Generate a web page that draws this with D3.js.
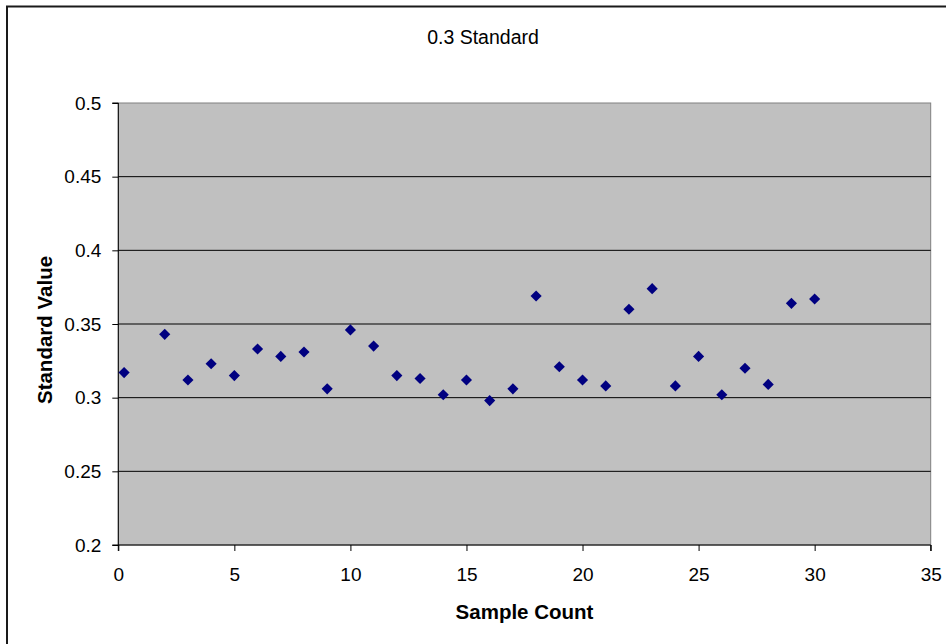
<!DOCTYPE html>
<html>
<head>
<meta charset="utf-8">
<script src="https://cdn.jsdelivr.net/npm/d3@7"></script>
<style>
  body { margin: 0; background: #fff; }
  svg { display: block; font-family: "Liberation Sans", Arial, sans-serif; }
</style>
</head>
<body>
<div id="chart"></div>
<script>
// sample number and the standard value measured for it
const sampleCount = [0.25, 2, 3, 4, 5, 6, 7, 8, 9, 10, 11, 12, 13, 14, 15,
  16, 17, 18, 19, 20, 21, 22, 23, 24, 25, 26, 27, 28, 29, 30];
const standardValue = [0.317, 0.343, 0.312, 0.323, 0.315, 0.333, 0.328, 0.331, 0.306, 0.346,
  0.335, 0.315, 0.313, 0.302, 0.312, 0.298, 0.306, 0.369, 0.321, 0.312,
  0.308, 0.360, 0.374, 0.308, 0.328, 0.302, 0.320, 0.309, 0.364, 0.367];

const xTicks = [0, 5, 10, 15, 20, 25, 30, 35];
const yTicks = [0.2, 0.25, 0.3, 0.35, 0.4, 0.45, 0.5];

const chartTitle = "0.3 Standard";
const xTitle = "Sample Count";
const yTitle = "Standard Value";

const W = 946, H = 644;
const plot = { left: 118.3, right: 930.7, top: 103, bottom: 545 };

const svg = d3.select("#chart").append("svg")
  .attr("width", W)
  .attr("height", H);

// outer chart border
svg.append("rect")
  .attr("x", 7).attr("y", 6.5)
  .attr("width", W).attr("height", H)
  .attr("fill", "#fff")
  .attr("stroke", "#1a1a1a")
  .attr("stroke-width", 2);

const x = d3.scaleLinear().domain([0, 35]).range([plot.left, plot.right]);
const y = d3.scaleLinear().domain([0.2, 0.5]).range([plot.bottom, plot.top]);

// grey plot area
svg.append("rect")
  .attr("x", plot.left).attr("y", plot.top)
  .attr("width", plot.right - plot.left)
  .attr("height", plot.bottom - plot.top)
  .attr("fill", "#c0c0c0")
  .attr("stroke", "#808080");

// horizontal gridlines
svg.append("g")
  .selectAll("line")
  .data(yTicks.slice(1, -1))
  .join("line")
  .attr("x1", plot.left).attr("x2", plot.right)
  .attr("y1", d => y(d)).attr("y2", d => y(d))
  .attr("stroke", "#000")
  .attr("stroke-width", 1);

// axes
const yAxis = svg.append("g")
  .attr("transform", `translate(${plot.left},0)`)
  .call(d3.axisLeft(y).tickValues(yTicks).tickSize(6).tickPadding(11).tickFormat(d => String(d)));

const xAxis = svg.append("g")
  .attr("transform", `translate(0,${plot.bottom})`)
  .call(d3.axisBottom(x).tickValues(xTicks).tickSize(6).tickPadding(17).tickFormat(d => String(d)));

[xAxis, yAxis].forEach(g => {
  g.select(".domain").attr("stroke", "#000");
  g.selectAll(".tick line").attr("stroke", "#000");
  g.selectAll(".tick text")
    .attr("fill", "#000")
    .style("font-size", "19px")
    .style("font-family", "'Liberation Sans', Arial, sans-serif");
});
yAxis.select(".domain").attr("d", `M-6,${plot.top}H0V${plot.bottom}H-6`);
xAxis.select(".domain").attr("d", `M${plot.left},6V0H${plot.right}V6`);

// data points as navy diamonds
svg.append("g")
  .selectAll("path")
  .data(sampleCount)
  .join("path")
  .attr("d", d3.symbol(d3.symbolSquare, 62))
  .attr("transform", (d, i) => `translate(${x(d)},${y(standardValue[i])}) rotate(45)`)
  .attr("fill", "#000080");

// titles
svg.append("text")
  .attr("x", 483).attr("y", 44)
  .attr("text-anchor", "middle")
  .style("font-size", "19.5px")
  .text(chartTitle);

svg.append("text")
  .attr("x", (plot.left + plot.right) / 2).attr("y", 619)
  .attr("text-anchor", "middle")
  .style("font-size", "20.5px")
  .style("font-weight", "bold")
  .text(xTitle);

svg.append("text")
  .attr("transform", `translate(52,330) rotate(-90)`)
  .attr("text-anchor", "middle")
  .style("font-size", "20.5px")
  .style("font-weight", "bold")
  .text(yTitle);
</script>
</body>
</html>
